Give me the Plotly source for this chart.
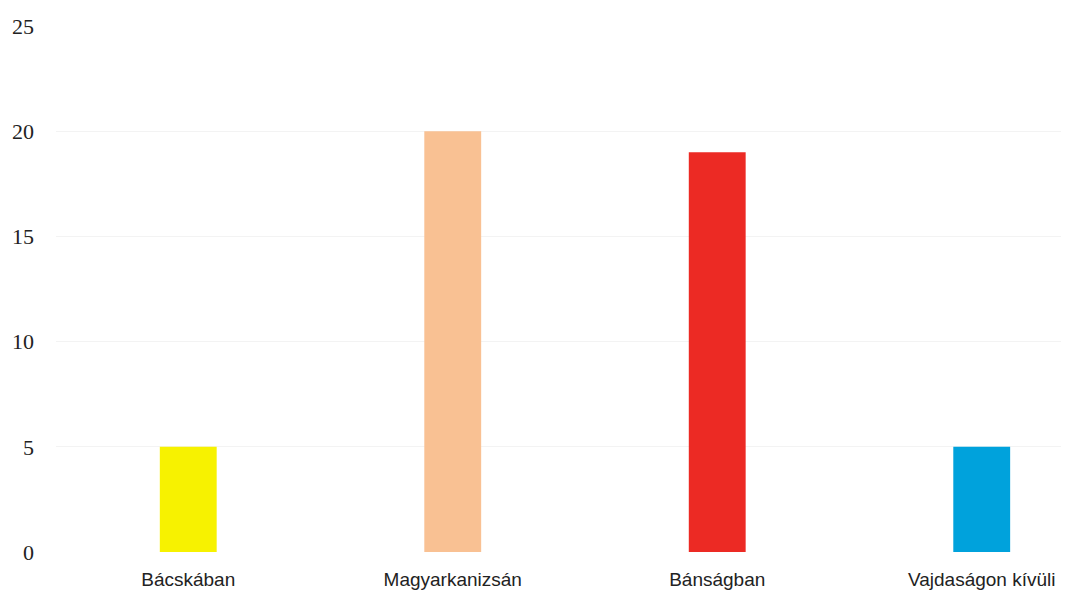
import plotly.graph_objects as go

categories = ["Bácskában", "Magyarkanizsán", "Bánságban", "Vajdaságon kívüli"]
values = [5, 20, 19, 5]
colors = ["#f7f200", "#f9c193", "#ec2a24", "#00a2dc"]
y_ticks = [0, 5, 10, 15, 20, 25]

fig = go.Figure(
    go.Bar(
        x=categories,
        y=values,
        marker=dict(color=colors, line=dict(width=0)),
        width=0.215,
    )
)

fig.update_layout(
    width=1069,
    height=591,
    margin=dict(l=48, r=8, t=18, b=47),
    paper_bgcolor="white",
    plot_bgcolor="white",
    showlegend=False,
    bargap=0.78,
)

fig.update_xaxes(
    type="category",
    range=[-0.5, 3.33],
    showgrid=False,
    zeroline=False,
    showline=False,
    ticks="",
    automargin=False,
    tickfont=dict(family="Liberation Sans, Arial", size=19, color="#222222"),
    ticklabelstandoff=14,
)

fig.update_yaxes(
    range=[0, 25],
    tickvals=y_ticks,
    showgrid=True,
    gridcolor="#f3f3f3",
    gridwidth=1,
    zeroline=False,
    showline=False,
    ticks="",
    automargin=False,
    tickfont=dict(family="Liberation Serif, Times New Roman", size=22, color="#222222"),
    ticklabelstandoff=21,
)

fig.write_html("out.html")
